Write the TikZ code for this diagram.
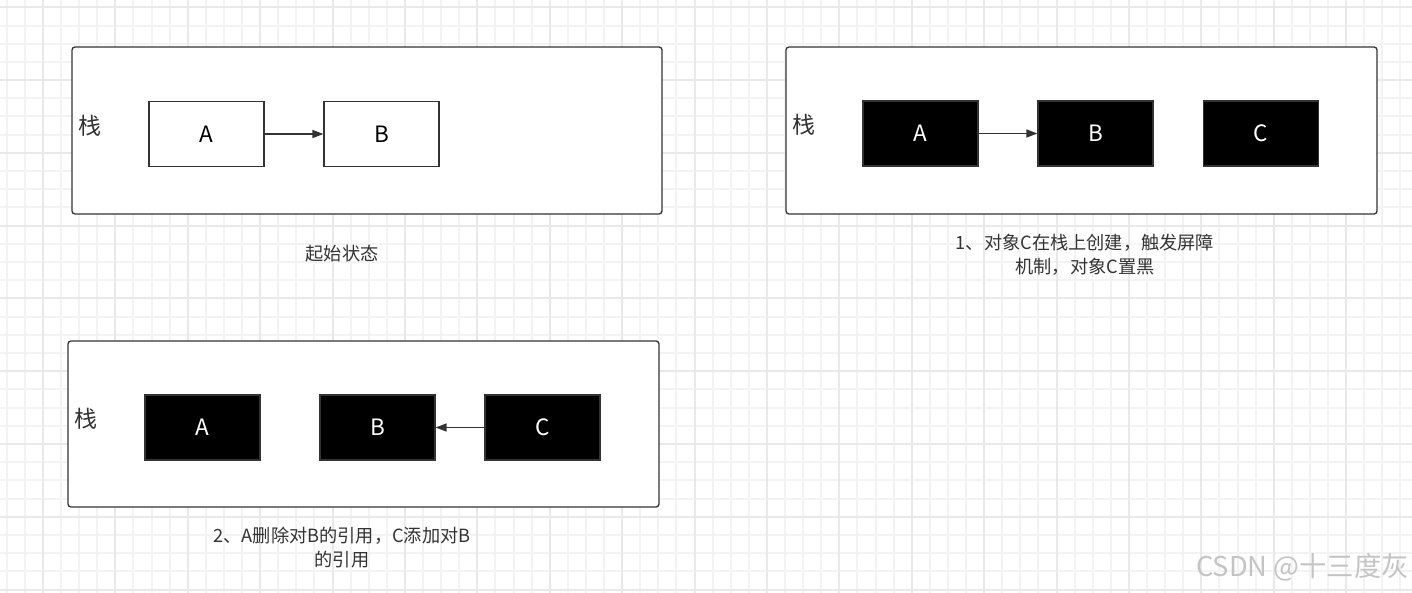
\documentclass[tikz,border=0pt]{standalone}
\usepackage{fontspec}
\setmainfont{Noto Sans CJK SC}
\usetikzlibrary{arrows.meta}
\definecolor{edgecol}{HTML}{333333}
\definecolor{gridminor}{HTML}{F3F3F3}
\definecolor{gridmajor}{HTML}{E9E9E9}
\definecolor{capcol}{HTML}{333333}
\definecolor{wmcol}{HTML}{C4C4C4}
\tikzset{
  panel/.style={draw=edgecol, line width=1.3pt, rounded corners=3pt, fill=white},
  wbox/.style={draw=edgecol, fill=white, line width=1.2pt, minimum width=115pt, minimum height=65pt, inner sep=0pt, font=\fontsize{22.5}{26}\selectfont},
  bbox/.style={draw=edgecol, fill=black, text=white, line width=1.2pt, minimum width=115pt, minimum height=65pt, inner sep=0pt, font=\fontsize{22.5}{26}\selectfont},
  stacklbl/.style={text=edgecol, font=\fontsize{23}{26}\selectfont, inner sep=0pt},
  caption/.style={text=capcol, align=center, font=\fontsize{18.2}{24}\selectfont, inner sep=0pt},
  ref/.style={draw=edgecol, line width=1.4pt, -{Triangle[length=11pt,width=8pt]}},
  wmark/.style={text=wmcol, font=\fontsize{27.3}{30}\selectfont, inner sep=0pt},
  gline/.style={line width=2pt}
}
\begin{document}
\begin{tikzpicture}[x=1pt,y=-1pt]
\useasboundingbox (0,0) rectangle (1412,593);
\fill[white] (0,0) rectangle (1412,593);
% grid
\foreach \i in {0,...,77} {\pgfmathsetmacro\gx{round(6.7+18.1*\i)}\draw[gridminor, gline] (\gx,0) -- (\gx,593);}
\foreach \i in {0,...,32} {\pgfmathsetmacro\gy{round(7.3+18.2*\i)}\draw[gridminor, gline] (0,\gy) -- (1412,\gy);}
\foreach \i in {2,6,...,74} {\pgfmathsetmacro\gx{round(6.7+18.1*\i)}\draw[gridmajor, gline] (\gx,0) -- (\gx,593);}
\foreach \i in {0,4,...,32} {\pgfmathsetmacro\gy{round(7.3+18.2*\i)}\draw[gridmajor, gline] (0,\gy) -- (1412,\gy);}

% panel 1
\draw[panel] (72,47) rectangle (662,214);
\node[stacklbl] (s1) at (90,126) {栈};
\node[wbox] (a1) at (206.5,134) {A};
\node[wbox] (b1) at (381.5,134) {B};
\draw[ref] (a1) -- (b1);
\node[caption] (c1) at (342,254) {起始状态};

% panel 2
\draw[panel] (786,47) rectangle (1377,214);
\node[stacklbl] (s2) at (804,125) {栈};
\node[bbox] (a2) at (920.5,133.5) {A};
\node[bbox] (b2) at (1095.5,133.5) {B};
\node[bbox] (k2) at (1261,133.5) {C};
\draw[ref] (a2) -- (b2);
\node[caption] (c2) at (1085,254.5) {1、对象C在栈上创建，触发屏障\\机制，对象C置黑};

% panel 3
\draw[panel] (68,341) rectangle (659,507);
\node[stacklbl] (s3) at (86,419) {栈};
\node[bbox] (a3) at (202.5,427.5) {A};
\node[bbox] (b3) at (377.5,427.5) {B};
\node[bbox] (k3) at (542.5,427.5) {C};
\draw[ref] (k3) -- (b3);
\node[caption] (c3) at (342,547.5) {2、A删除对B的引用，C添加对B\\的引用};

% watermark
\node[wmark] (wm) at (1302.5,567) {CSDN @十三度灰};
\end{tikzpicture}
\end{document}
